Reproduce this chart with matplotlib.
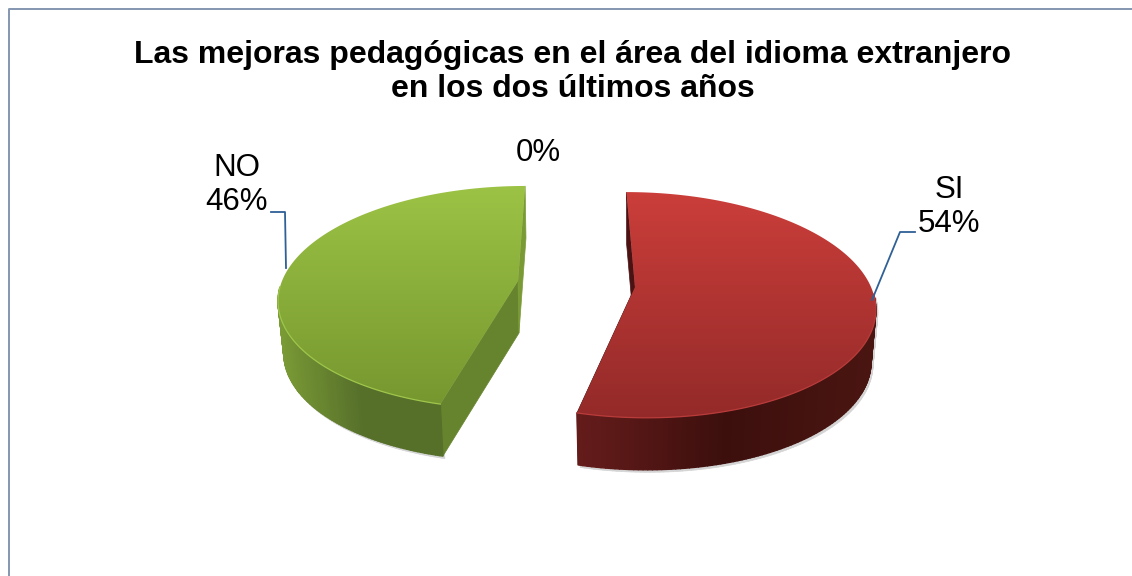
import matplotlib
matplotlib.use("Agg")
import matplotlib.pyplot as plt
from matplotlib.collections import PolyCollection
from matplotlib.colors import LinearSegmentedColormap
from matplotlib.patches import PathPatch, Polygon
from matplotlib.path import Path
import numpy as np

plt.rcParams['font.family'] = ['Liberation Sans', 'DejaVu Sans']

# data
title_text = "Las mejoras pedagógicas en el área del idioma extranjero\nen los dos últimos años"
names = ["SI", "NO", ""]
percents = [54, 46, 0]

# look of each slice: centre, radii, perspective, shear, colours
slice_styles = {
    "SI": dict(cx=635, cy=287, rx=236, ry=110, p=0.159, shear=0.09, dx=0, taper=-0.02,
               top=("#cb3e3a", "#932a29"), rim="#b93c3b",
               side=["#651c1b", "#3c0f0d", "#4a1511"], side_x=(578, 875),
               inner=["#4a1212", "#4a1212"]),
    "NO": dict(cx=518, cy=281, rx=236, ry=109, p=0.147, shear=-0.075, dx=1, taper=-0.02,
               top=("#9cc345", "#76972f"), rim="#9fc64c",
               side=["#7a9a35", "#56702a", "#56702a"], side_x=(278, 445),
               inner=["#66842d", "#7a9a35"]),
}
depth = 52

fig = plt.figure(figsize=(11.32, 5.76), dpi=100)
ax = fig.add_axes([0, 0, 1, 1])


def project(angles, st):
    # unit circle to pixels, the near side of the pie comes out bigger
    u = np.cos(angles)
    v = -np.sin(angles)
    scale = 1 / (1 - st["p"] * v)
    y = st["ry"] * v * scale
    x = st["rx"] * u * scale + st["shear"] * y
    return st["cx"] + x, st["cy"] + y


def draw_slice(start, end, st):
    arc = np.radians(np.linspace(start, end, 200))
    ax_x, ax_y = project(arc, st)
    cx, cy = st["cx"], st["cy"]
    low_x = ax_x + st["dx"] + st["taper"] * (ax_x - cx)

    # the two cut faces go first, the outer wall covers what it should
    for k, i in enumerate([0, -1]):
        face = [(cx, cy), (ax_x[i], ax_y[i]), (low_x[i], ax_y[i] + depth), (cx + st["dx"], cy + depth)]
        ax.add_patch(Polygon(face, closed=True, fc=st["inner"][k], ec=st["inner"][k], lw=0.5, zorder=2))

    # outer wall, coloured by x, only the part facing us
    quads = []
    for i in range(len(arc) - 1):
        if np.sin(arc[i]) < -0.05 and np.sin(arc[i + 1]) < -0.05:
            quads.append([(ax_x[i], ax_y[i]), (ax_x[i + 1], ax_y[i + 1]),
                          (low_x[i + 1], ax_y[i + 1] + depth), (low_x[i], ax_y[i] + depth)])
    quads = np.array(quads)

    shadow = PolyCollection(quads + [2, 2.5], facecolors="#d4d4d4", edgecolors="#d4d4d4",
                            linewidths=0.5, zorder=1)
    ax.add_collection(shadow)

    cmap = LinearSegmentedColormap.from_list("side", st["side"])
    pos = np.clip((quads[:, 0, 0] - st["side_x"][0]) / (st["side_x"][1] - st["side_x"][0]), 0, 1)
    cols = cmap(pos)
    ax.add_collection(PolyCollection(quads, facecolors=cols, edgecolors=cols, linewidths=1, zorder=3))

    # top face with a vertical gradient
    verts = [(cx, cy)] + list(zip(ax_x, ax_y)) + [(cx, cy)]
    patch = PathPatch(Path(verts, closed=True), fc="none", ec="none", zorder=4)
    ax.add_patch(patch)
    grad_cmap = LinearSegmentedColormap.from_list("top", st["top"])
    grad = np.linspace(0, 1, 256).reshape(-1, 1)
    im = ax.imshow(grad, cmap=grad_cmap, aspect="auto", zorder=4,
                   extent=(ax_x.min(), ax_x.max(), ax_y.max(), ax_y.min()), origin="upper")
    im.set_clip_path(patch)

    # light rim along the front edge
    front = np.sin(arc) < -0.05
    ax.plot(ax_x[front], ax_y[front], color=st["rim"], lw=0.9, zorder=5)


# slices run clockwise from 12 o'clock
angle = 90.0
for name, pct in zip(names, percents):
    sweep = pct / sum(percents) * 360
    if pct > 0:
        draw_slice(angle, angle - sweep, slice_styles[name])
    angle -= sweep

# leader lines
ax.plot([271, 285, 286], [212, 212, 268], color="#2f6096", lw=1.3, zorder=6)
ax.plot([915, 900, 872], [232, 232, 300], color="#2f6096", lw=1.3, zorder=6)

# labels
label_pos = [(949, 207), (237, 185), (538, 153)]
for name, pct, (lx, ly) in zip(names, percents, label_pos):
    txt = f"{name}\n{pct}%" if name else f"{pct}%"
    ax.text(lx, ly, txt, ha="center", va="center", fontsize=22.5, color="#000000",
            linespacing=1.2, zorder=7)

ax.text(573, 72, title_text, ha="center", va="center", fontsize=23, fontweight="bold",
        color="#000000", linespacing=1.14, zorder=7)

# chart border, only top and left show in the crop
ax.plot([1132, 9, 9], [8.8, 8.8, 576], color="#8497b0", lw=1.4, zorder=0)

ax.set_xlim(0, 1132)
ax.set_ylim(576, 0)
ax.axis("off")

fig.savefig("out.png", dpi=100)
